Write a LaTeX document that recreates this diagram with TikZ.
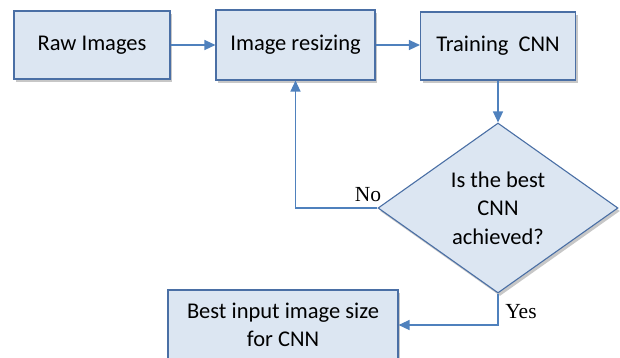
\documentclass[tikz,border=0pt]{standalone}
\usepackage{fontspec}
\setmainfont{Carlito}
\newfontfamily\labelfont{Liberation Serif}
\usetikzlibrary{shapes.geometric,arrows.meta,shadows}
\definecolor{boxfill}{HTML}{DCE6F2}
\definecolor{boxline}{HTML}{4A6FA5}
\definecolor{flowline}{HTML}{4F81BD}
\tikzset{
  procbox/.style={draw=boxline, fill=boxfill, line width=1.1pt,
    font=\fontsize{22.5}{28.5}\selectfont, align=center, inner sep=0pt,
    drop shadow={shadow xshift=2pt, shadow yshift=-3pt, fill=black, opacity=0.22}},
  decbox/.style={procbox, shape=diamond, aspect=1.41},
  flow/.style={draw=flowline, line width=1.3pt,
    -{Triangle[length=11pt,width=10pt]}},
  answer/.style={font=\labelfont\fontsize{21.5}{24}\selectfont, inner sep=0pt}
}
\begin{document}
\begin{tikzpicture}[x=1pt, y=-1pt]
  \useasboundingbox (0,0) rectangle (620,357);
  \clip (0,0) rectangle (620,357);

  % process steps
  \node[procbox, minimum width=156pt, minimum height=68pt] (raw) at (92,45) {Raw Images};
  \node[procbox, minimum width=159pt, minimum height=70pt] (resize) at (295.5,45) {Image resizing};
  \node[procbox, minimum width=155pt, minimum height=68pt] (train) at (498,46) {Training\ \ CNN};

  % decision
  \node[decbox, minimum width=240pt, minimum height=170pt] (check) at (498,208)
    {Is the best\\CNN\\achieved?};

  % result
  \node[procbox, minimum width=230pt, minimum height=70pt] (best) at (283,325)
    {Best input image size\\for CNN};

  % connectors
  \draw[flow] (raw.east) -- (resize.west);
  \draw[flow] (resize.east) -- (resize.east -| train.west);
  \draw[flow] (train.south) -- (check.north);
  \draw[flow] (check.west) -| (resize.south);
  \draw[flow] (check.south) |- (best.east);

  % branch labels
  \node[answer] (no) at (368,195) {No};
  \node[answer] (yes) at (521,312) {Yes};
\end{tikzpicture}
\end{document}
